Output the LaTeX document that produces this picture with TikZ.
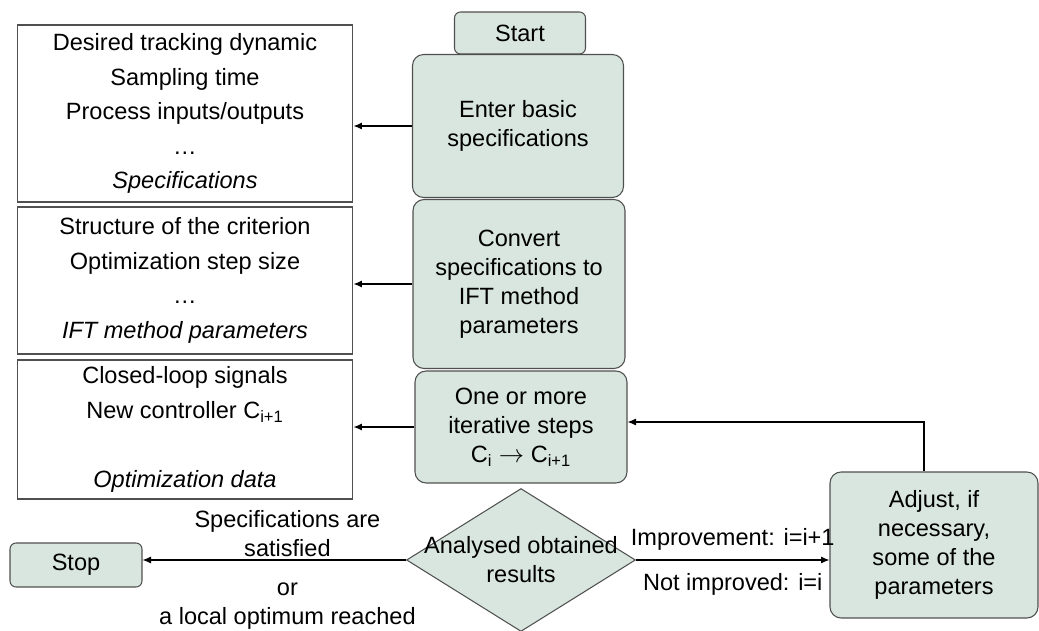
\documentclass[tikz,border=0pt]{standalone}
\usepackage{fontspec}
\setmainfont{Liberation Sans}
\usetikzlibrary{shapes.geometric,arrows.meta,positioning}
\definecolor{boxfill}{RGB}{216,230,223}
\definecolor{boxline}{RGB}{80,80,80}

\begin{document}
\begin{tikzpicture}[x=0.02cm, y=-0.02cm,
        font=\fontsize{13.4}{16.5}\selectfont,
        line width=0.6pt, >={Latex[length=1.7mm,width=1.4mm]},
        stepbox/.style={draw=boxline, fill=boxfill, rounded corners=0.22cm,
                        align=center, inner sep=0pt},
        infobox/.style={draw=boxline, fill=white, align=center, inner sep=0pt,
                        minimum width=6.72cm, font=\fontsize{13.4}{19.6}\selectfont},
        decision/.style={diamond, draw=boxline, fill=boxfill, inner sep=0pt,
                         minimum width=4.58cm, minimum height=2.86cm},]
    \useasboundingbox (0,0) rectangle (1039,631);

    % main column
    \node[stepbox, rounded corners=0.12cm, minimum width=2.62cm, minimum height=0.84cm] (start) at (520,33) {Start};
    \node[stepbox, minimum width=4.22cm, minimum height=2.86cm] (enter) at (518,126) {Enter basic\\specifications};
    \node[stepbox, minimum width=4.24cm, minimum height=3.38cm] (convert) at (519,284) {Convert\\specifications to\\IFT method\\parameters};
    \node[stepbox, minimum width=4.24cm, minimum height=2.24cm] (iter) at (521,427) {One or more\\iterative steps\\C\textsubscript{i} $\rightarrow$ C\textsubscript{i+1}};
    \node[decision] (analyse) at (521,560) {};
    \node[align=center, inner sep=0pt] (analysetxt) at (analyse) {Analysed obtained\\results};
    \node[stepbox, minimum width=4.16cm, minimum height=2.92cm] (adjust) at (934,545) {Adjust, if\\necessary,\\some of the\\parameters};
    \node[stepbox, rounded corners=0.12cm, minimum width=2.64cm, minimum height=0.88cm] (stop) at (76,565) {Stop};

    % data produced at each step
    \node[infobox, minimum height=3.54cm] (specs) at (185,113.5) {Desired tracking dynamic\\Sampling time\\Process inputs/outputs\\\dots\\\textit{Specifications}};
    \node[infobox, minimum height=2.94cm] (params) at (185,280.5) {Structure of the criterion\\Optimization step size\\\dots\\\textit{IFT method parameters}};
    \node[infobox, minimum height=2.78cm] (optdata) at (185,429.5) {Closed-loop signals\\New controller C\textsubscript{i+1}\\[19.6pt]\textit{Optimization data}};

    \draw[->] (enter.west) -- (enter.west -| specs.east);
    \draw[->] (convert.west) -- (convert.west -| params.east);
    \draw[->] (iter.west) -- (iter.west -| optdata.east);

    % decision outcomes
    \draw[->] (analyse.east) -- (analyse.east -| adjust.west)
        node[midway, above=2pt] {Improvement: i=i+1}
        node[midway, below=4pt] {Not improved: i=i};
    \draw[->] (analyse.west) -- (analyse.west -| stop.east)
        node[pos=0.45, above=-2pt, align=center] {Specifications are\\satisfied}
        node[pos=0.45, below=0.32cm, align=center] {or\\a local optimum reached};
    \draw[->] ([xshift=-0.2cm]adjust.north) |- ([yshift=0.1cm]iter.east);
\end{tikzpicture}
\end{document}
